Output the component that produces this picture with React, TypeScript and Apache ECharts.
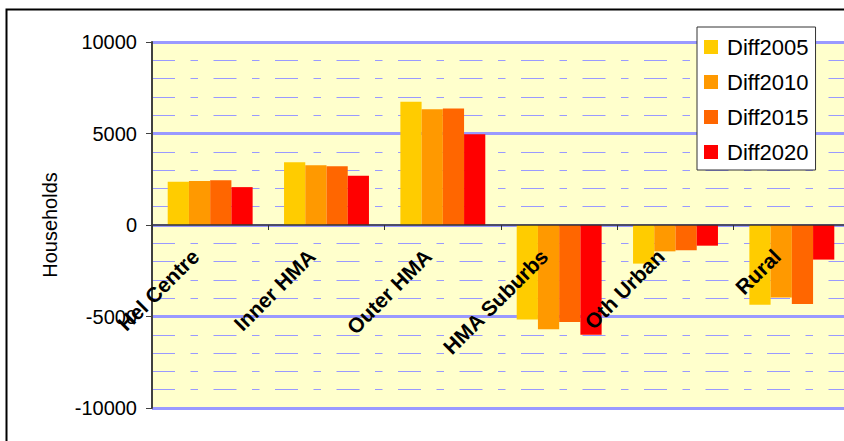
import React, { useEffect, useRef } from "react";
import * as echarts from "echarts";

// Household change by area, difference against base year
const categories = ["Hel Centre", "Inner HMA", "Outer HMA", "HMA Suburbs", "Oth Urban", "Rural"];
const seriesNames = ["Diff2005", "Diff2010", "Diff2015", "Diff2020"];
const diff2005 = [2360, 3430, 6740, -5160, -2110, -4360];
const diff2010 = [2400, 3270, 6320, -5700, -1440, -3960];
const diff2015 = [2450, 3210, 6360, -5300, -1380, -4320];
const diff2020 = [2070, 2690, 4960, -6000, -1130, -1890];
const seriesColors = ["#FFCC00", "#FF9900", "#FF6600", "#FF0000"];

const FONT = "'Liberation Sans', Arial, sans-serif";

// plot box in pixels
const GRID_TOP = 42;
const GRID_BOTTOM = 33;
const CHART_H = 441;

export default function App() {
  const ref = useRef<HTMLDivElement>(null);

  useEffect(() => {
    if (!ref.current) return;
    const chart = echarts.init(ref.current, undefined, { renderer: "svg" });
    const values = [diff2005, diff2010, diff2015, diff2020];
    // category axis sits on the zero line, halfway down the symmetric value range
    const plotH = CHART_H - GRID_TOP - GRID_BOTTOM;
    const zeroOffset = -plotH / 2;

    chart.setOption({
      animation: false,
      backgroundColor: "#ffffff",
      textStyle: { fontFamily: FONT },
      graphic: [
        {
          type: "rect",
          left: 4,
          top: 7,
          shape: { x: 0, y: 0, width: 900, height: 500 },
          style: { fill: "none", stroke: "#000000", lineWidth: 2 },
          silent: true,
          z: 100,
        },
      ],
      grid: {
        left: 152,
        top: GRID_TOP,
        bottom: GRID_BOTTOM,
        right: -6,
        containLabel: false,
        outerBoundsMode: "none",
        show: true,
        backgroundColor: "#FFFFCC",
        borderColor: "#8a8aa8",
        borderWidth: 1,
      },
      legend: {
        orient: "vertical",
        left: 697,
        top: 27,
        data: seriesNames,
        backgroundColor: "#ffffff",
        borderColor: "#333333",
        borderWidth: 1,
        borderRadius: 0,
        padding: [9, 7, 7, 7],
        itemWidth: 14,
        itemHeight: 14,
        itemGap: 13,
        icon: "rect",
        textStyle: { fontFamily: FONT, fontSize: 22, color: "#000", lineHeight: 22, padding: [0, 0, 0, 4] },
        z: 50,
      },
      xAxis: {
        type: "category",
        data: categories,
        offset: zeroOffset,
        axisLine: { onZero: false, lineStyle: { color: "#333333", width: 1.5 } },
        axisTick: { show: true, length: 5, inside: false, lineStyle: { color: "#333333", width: 1 } },
        axisLabel: {
          interval: 0,
          rotate: 45,
          margin: 13,
          padding: [0, 21, 0, 0],
          hideOverlap: false,
          fontFamily: FONT,
          fontSize: 21,
          fontWeight: "bold",
          color: "#000000",
        },
        splitLine: { show: false },
        z: 10,
      },
      yAxis: {
        type: "value",
        min: -10000,
        max: 10000,
        interval: 5000,
        name: "Households",
        nameLocation: "middle",
        nameGap: 92,
        nameRotate: 90,
        nameTextStyle: { fontFamily: FONT, fontSize: 20, color: "#000000" },
        axisLine: { show: true, lineStyle: { color: "#404040", width: 2 } },
        axisTick: { show: true, length: 6, lineStyle: { color: "#404040", width: 1 } },
        axisLabel: {
          margin: 15,
          fontFamily: FONT,
          fontSize: 20,
          color: "#000000",
          formatter: (v: number) => String(v),
        },
        splitLine: { show: true, lineStyle: { color: "#9999FF", width: 3 } },
        minorTick: { show: false, splitNumber: 5 },
        minorSplitLine: {
          show: true,
          lineStyle: { color: "#9999FF", width: 1, type: [23, 15.5, 7.5, 15.5] },
        },
      },
      series: seriesNames.map((name, i) => ({
        name,
        type: "bar",
        data: values[i],
        barGap: "0%",
        barCategoryGap: "27%",
        itemStyle: { color: seriesColors[i] },
      })),
    });

    return () => chart.dispose();
  }, []);

  return (
    <div
      ref={ref}
      style={{ position: "fixed", left: 0, top: 0, width: 844, height: 441, overflow: "hidden" }}
    />
  );
}
